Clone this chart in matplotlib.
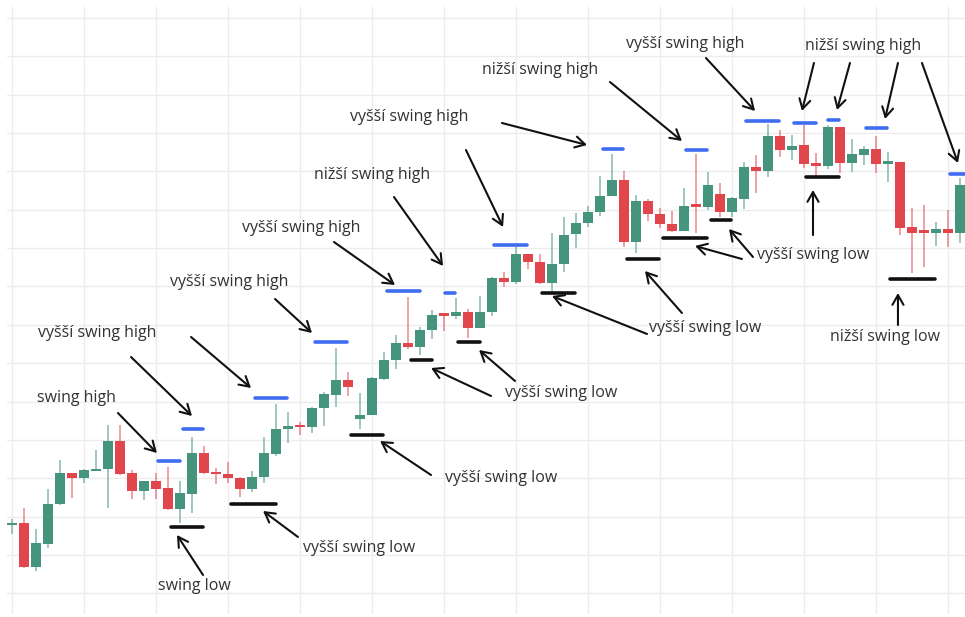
import numpy as np
import matplotlib
matplotlib.use("Agg")
import matplotlib.pyplot as plt

# OHLC candles (price units)
opens = [9.2, 9.4, 5.0, 7.3, 11.3, 14.4, 13.9, 14.6, 14.8, 17.6,
         14.4, 12.6, 13.6, 12.9, 10.8, 12.3, 16.4, 14.4, 14.3, 13.9,
         12.8, 14.0, 16.3, 18.8, 19.1, 19.0, 20.9, 22.2, 23.7, 19.8,
         20.2, 23.8, 25.7, 27.4, 27.0, 28.7, 30.2, 30.1, 30.5, 28.9,
         30.5, 33.9, 33.5, 36.3, 35.5, 33.4, 35.3, 38.3, 39.4, 40.5,
         42.1, 43.7, 37.5, 41.6, 40.3, 39.3, 38.6, 41.1, 41.0, 42.3,
         40.5, 41.8, 45.0, 44.6, 48.1, 46.7, 47.2, 45.4, 45.1, 49.0,
         45.4, 46.2, 46.8, 45.3, 45.5, 39.0, 38.5, 38.4, 38.8, 38.4]
closes = [9.4, 5.0, 7.4, 11.3, 14.4, 13.9, 14.7, 14.8, 17.6, 14.3,
          12.6, 13.6, 12.8, 10.8, 12.4, 16.4, 14.4, 14.3, 13.9, 12.8,
          14.0, 16.4, 18.8, 19.1, 19.0, 20.9, 22.3, 23.7, 23.0, 20.2,
          23.9, 25.7, 27.4, 27.0, 28.7, 30.2, 30.1, 30.5, 28.9, 30.5,
          33.9, 33.5, 36.3, 35.5, 33.4, 35.3, 38.2, 39.4, 40.5, 42.1,
          43.7, 37.5, 41.6, 40.3, 39.3, 38.6, 41.1, 41.0, 43.2, 40.5,
          41.9, 45.0, 44.6, 48.1, 46.7, 47.1, 45.3, 45.1, 49.0, 45.4,
          46.3, 46.8, 45.3, 45.5, 38.9, 38.4, 38.4, 38.8, 38.4, 43.2]
highs = [9.8, 10.9, 8.8, 12.8, 15.7, 14.4, 14.8, 16.7, 19.2, 19.2,
         14.7, 13.6, 14.4, 15.0, 13.6, 18.0, 17.1, 14.9, 15.5, 14.0,
         14.6, 18.0, 21.3, 20.5, 19.5, 21.0, 22.5, 26.9, 24.5, 22.4,
         24.0, 26.5, 28.2, 32.0, 29.0, 30.7, 30.3, 31.9, 30.8, 32.1,
         34.0, 34.5, 37.0, 36.3, 36.3, 38.4, 40.0, 40.4, 41.1, 44.1,
         46.3, 44.6, 42.2, 41.8, 40.9, 40.6, 42.9, 46.3, 44.5, 43.4,
         42.0, 45.5, 46.2, 49.3, 48.7, 48.2, 49.2, 46.4, 49.2, 49.0,
         47.8, 47.1, 48.1, 46.5, 45.5, 40.9, 41.2, 39.5, 40.7, 43.9]
lows = [8.3, 4.9, 4.6, 6.9, 11.2, 11.9, 13.4, 14.6, 10.9, 14.2,
        11.8, 11.7, 11.8, 10.7, 9.4, 10.4, 14.3, 13.3, 13.4, 12.0,
        12.5, 13.4, 16.1, 17.4, 18.2, 18.4, 19.1, 21.0, 22.1, 18.8,
        20.2, 23.7, 24.8, 26.8, 26.2, 27.8, 28.6, 29.8, 27.9, 28.9,
        30.1, 33.0, 33.3, 34.8, 33.3, 32.5, 34.5, 36.9, 39.0, 40.1,
        42.1, 37.0, 36.4, 39.6, 38.9, 38.5, 38.6, 38.4, 40.7, 40.0,
        40.0, 40.8, 42.4, 44.0, 46.0, 45.7, 44.9, 44.1, 44.8, 44.4,
        44.5, 45.2, 44.4, 43.5, 38.2, 34.4, 35.0, 37.1, 37.0, 37.4]

# swing levels: (first bar, last bar, price)
high_levels = [(12.2, 14.0, 15.6), (14.25, 15.9, 18.8), (20.25, 22.9, 21.9),
               (25.25, 27.9, 27.5), (31.25, 34.0, 32.6), (36.1, 36.9, 32.4),
               (40.2, 42.9, 37.2), (49.25, 50.9, 46.8), (56.2, 57.9, 46.7),
               (61.2, 63.9, 49.6), (65.2, 67.0, 49.4), (68.0, 68.9, 49.7),
               (71.2, 72.9, 48.9), (78.2, 79.5, 44.3)]
low_levels = [(13.25, 15.9, 9.0), (18.25, 22.0, 11.3), (28.25, 30.9, 18.2),
              (33.25, 35.0, 25.7), (37.2, 39.0, 27.5), (44.2, 46.9, 32.4),
              (51.25, 53.9, 35.8), (54.25, 57.9, 37.9), (58.25, 59.9, 39.7),
              (66.2, 68.9, 44.0), (73.2, 76.9, 33.8)]

# labels: (text, x, y, [(tail, head), ...])
labels = [
    ("swing high", 5.37, 21.9, [((8.83, 20.4), (12.08, 16.4))]),
    ("vyšší swing high", 7.08, 28.4, [((9.92, 26.0), (15.0, 20.1))]),
    ("vyšší swing high", 18.08, 33.5, [((14.92, 28.0), (19.92, 22.9))]),
    ("vyšší swing high", 24.1, 38.9, [((21.92, 31.8), (25.0, 28.4))]),
    ("nižší swing high", 30.0, 44.2, [((26.83, 37.5), (31.92, 33.2))]),
    ("vyšší swing high", 33.1, 50.0, [((31.83, 42.0), (35.92, 35.1)),
                                      ((37.83, 46.7), (40.92, 39.0))]),
    ("nižší swing high", 44.0, 54.7, [((40.83, 49.4), (47.92, 47.2))]),
    ("vyšší swing high", 56.1, 57.3, [((49.83, 53.5), (55.83, 47.6)),
                                      ((57.83, 55.9), (61.92, 50.6))]),
    ("nižší swing high", 70.96, 57.1, [((66.83, 55.4), (65.83, 50.6)),
                                       ((69.83, 55.4), (68.75, 50.7)),
                                       ((73.83, 55.4), (72.75, 49.8)),
                                       ((75.83, 55.4), (78.83, 45.4))]),
    ("swing low", 15.2, 3.1, [((15.92, 4.2), (13.75, 8.2))]),
    ("vyšší swing low", 28.9, 6.9, [((23.83, 8.0), (20.92, 10.6))]),
    ("vyšší swing low", 40.8, 13.9, [((34.92, 14.2), (30.67, 17.6))]),
    ("vyšší swing low", 45.8, 22.4, [((39.92, 22.1), (34.92, 24.9)),
                                     ((41.92, 23.6), (38.92, 26.7))]),
    ("vyšší swing low", 57.8, 28.9, [((52.92, 28.3), (45.0, 32.1)),
                                     ((55.83, 30.4), (52.75, 34.6))]),
    ("vyšší swing low", 66.8, 36.2, [((60.83, 35.8), (56.92, 37.1)),
                                     ((61.75, 36.0), (59.75, 38.8)),
                                     ((66.75, 38.2), (66.75, 42.7))]),
    ("nižší swing low", 72.75, 28.0, [((73.83, 29.2), (73.83, 32.4))]),
]

GREEN = "#45947d"
RED = "#e0464c"

fig = plt.figure(figsize=(9.65, 6.17), dpi=100)
ax = fig.add_axes([7 / 965, 3 / 617, 958 / 965, 607 / 617])

o = np.array(opens)
c = np.array(closes)
h = np.array(highs)
l = np.array(lows)
x = np.arange(len(o))
up = c >= o
cols = np.where(up, GREEN, RED)

ax.vlines(x, l, h, colors=cols, linewidth=1.3, alpha=0.55, zorder=2)
body = np.maximum(np.abs(c - o), 0.25)
ax.bar(x, body, bottom=np.minimum(o, c), width=0.76, color=cols, zorder=3)

for x0, x1, p in high_levels:
    ax.plot([x0, x1], [p, p], color="#3e6cf2", linewidth=2.6,
            solid_capstyle="round", zorder=4)
for x0, x1, p in low_levels:
    ax.plot([x0, x1], [p, p], color="#111111", linewidth=2.6,
            solid_capstyle="round", zorder=4)

for text, tx, ty, arrows in labels:
    ax.text(tx, ty, text, ha="center", va="center", fontsize=11.5,
            color="#333333", family="Open Sans", zorder=5)
    for tail, head in arrows:
        ax.annotate("", xy=head, xytext=tail,
                    arrowprops=dict(arrowstyle="->,head_length=0.7,head_width=0.4",
                                    color="#111111", lw=1.5,
                                    shrinkA=0, shrinkB=0), zorder=5)

ax.set_xlim(-5 / 12, 953 / 12)
ax.set_ylim(0.3, 61.0)
ax.set_xticks(np.arange(0, 80, 6))
ax.set_yticks(59.9 - 3.835 * np.arange(16))
ax.grid(True, color="#ececec", linewidth=1)
ax.set_axisbelow(True)
ax.tick_params(length=0, labelbottom=False, labelleft=False)
for s in ax.spines.values():
    s.set_visible(False)

fig.savefig("out.png", dpi=100, facecolor="white")
